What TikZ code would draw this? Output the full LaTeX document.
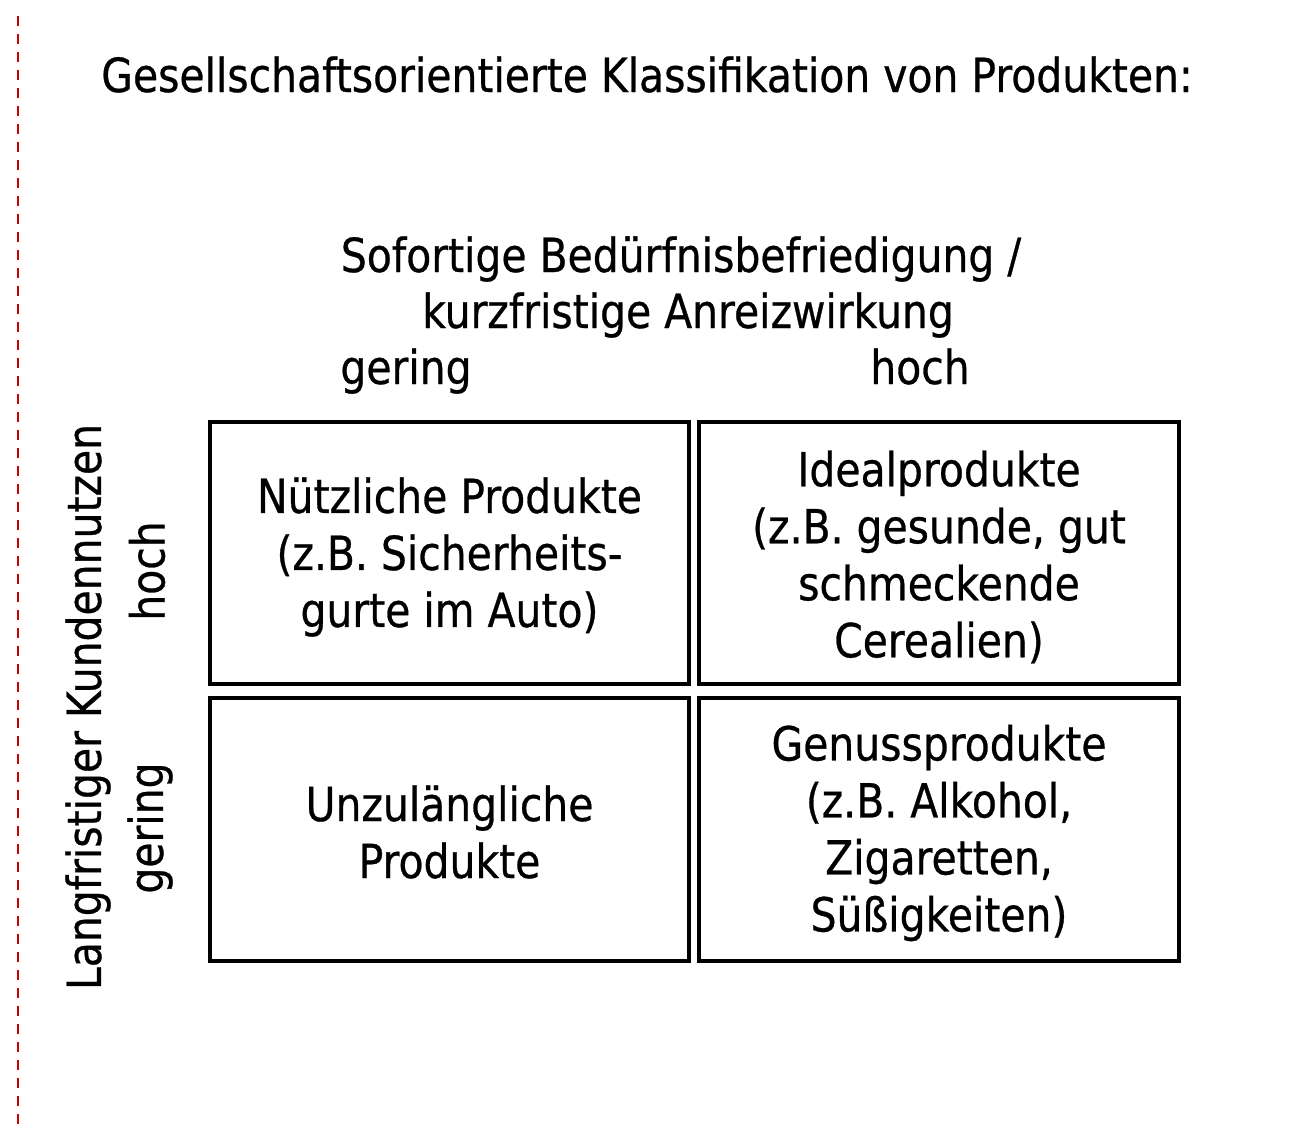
\documentclass[tikz,border=0pt]{standalone}
\usepackage{fontspec}
\setmainfont{DejaVu Sans}[FakeStretch=0.87,FakeBold=0.6]
\begin{document}
\begin{tikzpicture}[x=1pt,y=-1pt,
  cell/.style={draw=black,line width=3.4pt},
  big/.style={font=\fontsize{47}{57}\selectfont,inner sep=0pt},
  ttl/.style={font=\fontsize{47}{57}\selectfont,inner sep=0pt},
  celltext/.style={big,align=center}]
\useasboundingbox (0,0) rectangle (1298,1128);
\draw[color={rgb,255:red,200;green,0;blue,0},line width=2.6pt,dash pattern=on 10pt off 8pt] (18,16) coordinate (ra) -- (18,1125) coordinate (rb);
\node[ttl,anchor=base] (title) at (647,92) {Gesellschaftsorientierte Klassifikation von Produkten:};
\node[big,anchor=base] (top1) at (681,272) {Sofortige Bedürfnisbefriedigung /};
\node[big,anchor=base] (top2) at (688,328) {kurzfristige Anreizwirkung};
\node[big,anchor=base] (cg) at (406,384) {gering};
\node[big,anchor=base] (ch) at (920,384) {hoch};
\draw[cell] (210,422) rectangle (689,684);
\draw[cell] (699,422) rectangle (1179,684);
\draw[cell] (210,698) rectangle (689,961);
\draw[cell] (699,698) rectangle (1179,961);
\node[celltext] (b1) at (449.5,557) {Nützliche Produkte\\(z.B. Sicherheits-\\gurte im Auto)};
\node[celltext] (b2) at (939,557) {Idealprodukte\\(z.B. gesunde, gut\\schmeckende\\Cerealien)};
\node[celltext] (b3) at (449.5,832) {Unzulängliche\\Produkte};
\node[celltext] (b4) at (939,833) {Genussprodukte\\(z.B. Alkohol,\\Zigaretten,\\Süßigkeiten)};
\node[big,rotate=90] (yl) at (88,707) {Langfristiger Kundennutzen};
\node[big,rotate=90] (rh) at (147,571) {hoch};
\node[big,rotate=90] (rg) at (150,828) {gering};
\end{tikzpicture}
\end{document}
